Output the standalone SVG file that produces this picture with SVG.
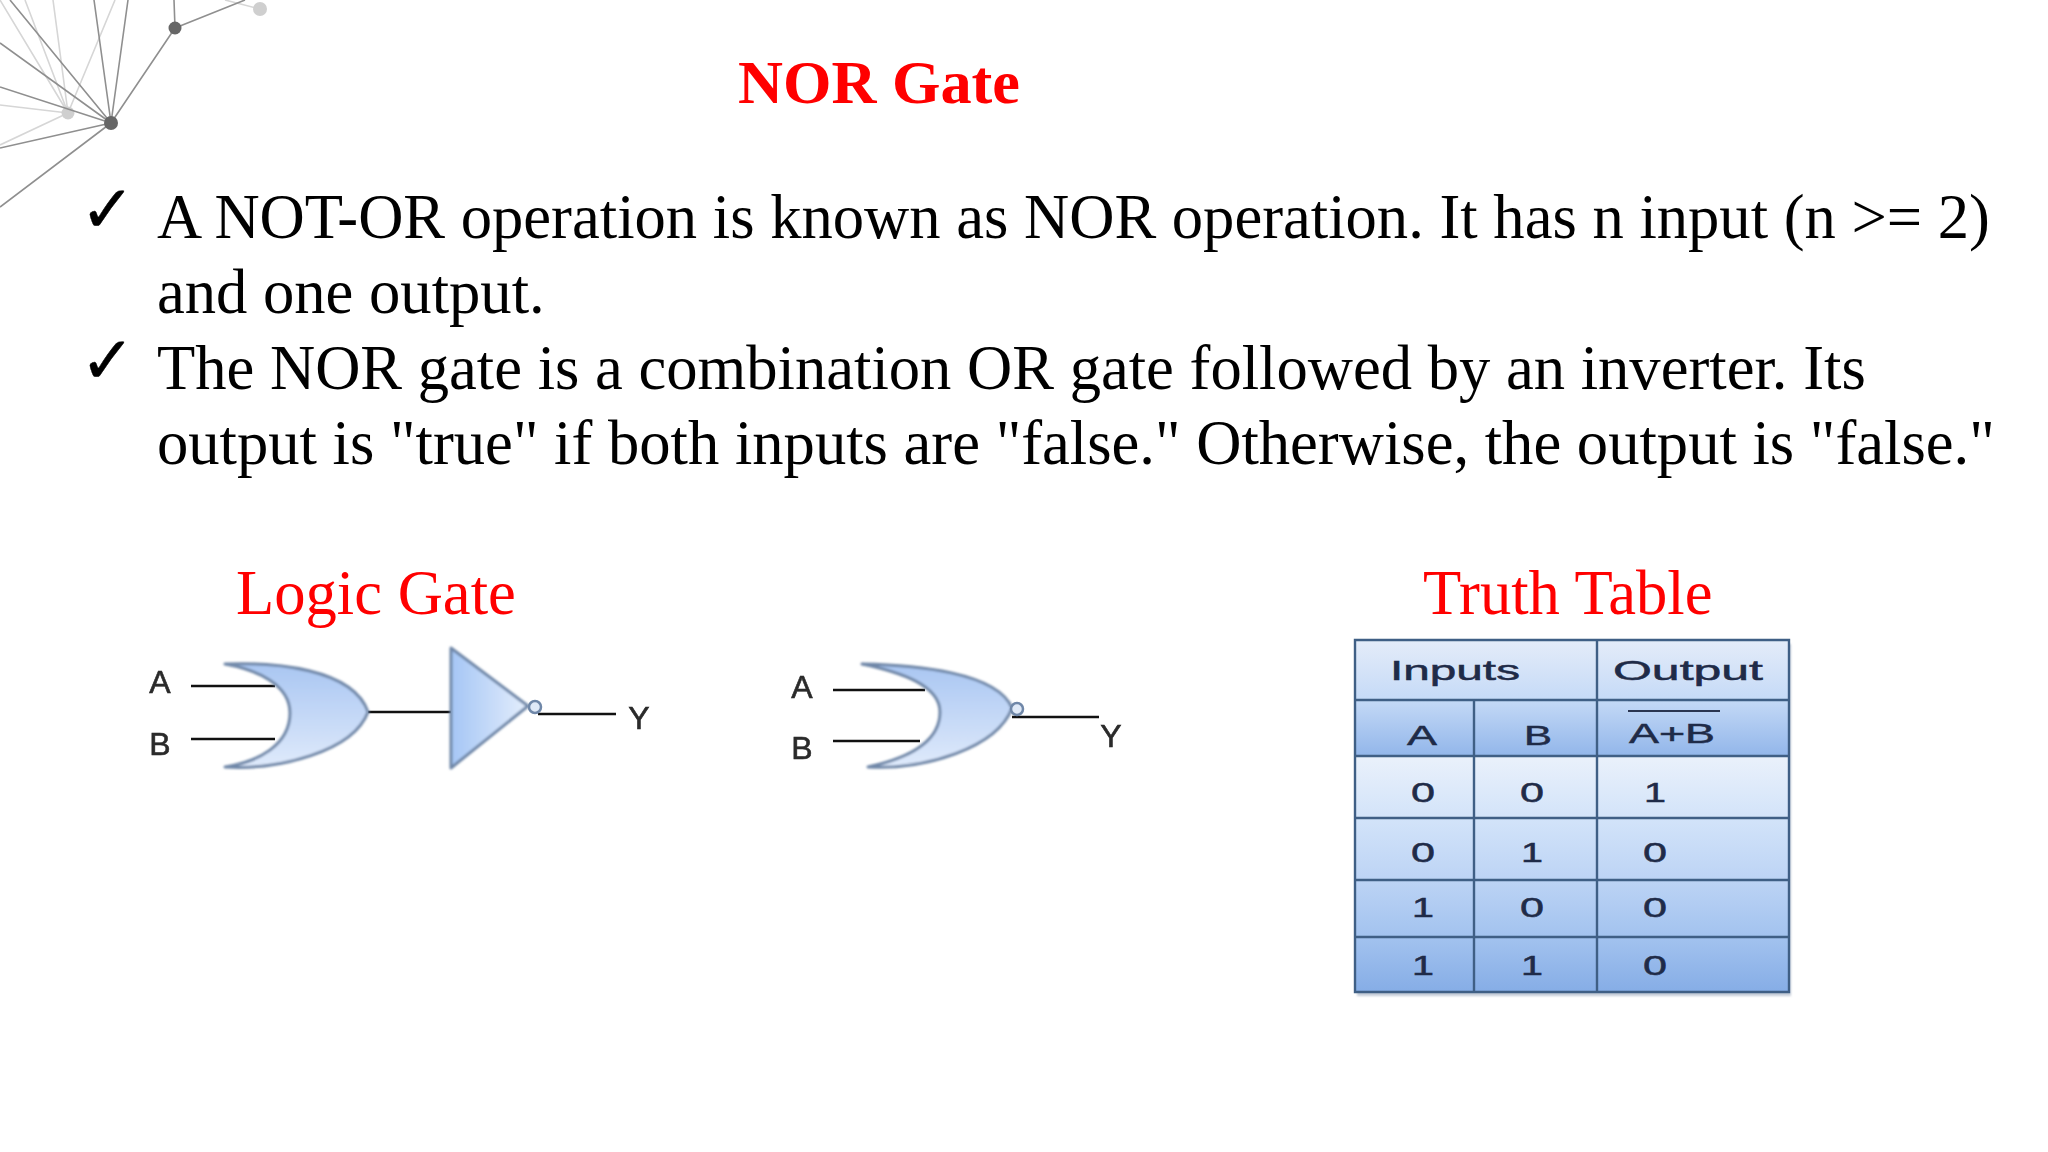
<svg xmlns="http://www.w3.org/2000/svg" width="2048" height="1152" viewBox="0 0 2048 1152">
<style>
.ser{font-family:"Liberation Serif","Times New Roman",serif}
.title{font-size:62.3px;font-weight:bold;fill:#ff0000}
.sub{font-size:62.6px;fill:#ff0000}
.body{font-size:62.6px;fill:#000}
.chk{font-family:"DejaVu Sans",sans-serif;font-size:66px;fill:#000;stroke:#000;stroke-width:0.4}
.lab{font-family:"Liberation Sans",Arial,sans-serif;font-size:32px;fill:#2a2a2a;stroke:#2a2a2a;stroke-width:0.6;text-anchor:middle;filter:url(#tiny)}
.tt{font-family:"Liberation Sans",Arial,sans-serif;font-size:28px;fill:#1f2b48;stroke:#1f2b48;stroke-width:0.5;text-anchor:middle}
.wire{stroke:#111;stroke-width:2.5;fill:none}
.gate{stroke:#6f87a8;stroke-width:3;stroke-linejoin:round;filter:url(#soft)}
.d{stroke:#8f8f8f;stroke-width:1.6;fill:none}
.l{stroke:#d6d6d6;stroke-width:1.6;fill:none}
.grid{stroke:#3f5f85;stroke-width:2.4;fill:none}
</style>
<defs>
<linearGradient id="orG" x1="0" y1="0" x2="0" y2="1"><stop offset="0" stop-color="#a9c6f2"/><stop offset="1" stop-color="#dfeafb"/></linearGradient>
<linearGradient id="invG" x1="0" y1="0" x2="1" y2="0"><stop offset="0" stop-color="#a5c6f5"/><stop offset="1" stop-color="#e4eefc"/></linearGradient>
<linearGradient id="r1" x1="0" y1="0" x2="0" y2="1"><stop offset="0" stop-color="#e4ecf9"/><stop offset="1" stop-color="#c5daf7"/></linearGradient>
<linearGradient id="r2" x1="0" y1="0" x2="0" y2="1"><stop offset="0" stop-color="#c4d9f6"/><stop offset="1" stop-color="#92b6ea"/></linearGradient>
<linearGradient id="r3" x1="0" y1="0" x2="0" y2="1"><stop offset="0" stop-color="#eaf1fb"/><stop offset="0.27" stop-color="#d2e3f9"/><stop offset="0.52" stop-color="#bdd4f5"/><stop offset="0.76" stop-color="#a3c3ef"/><stop offset="1" stop-color="#86ade6"/></linearGradient>
<filter id="soft" x="-10%" y="-10%" width="120%" height="125%"><feGaussianBlur stdDeviation="0.8"/></filter>
<filter id="tiny" x="-10%" y="-10%" width="120%" height="120%"><feGaussianBlur stdDeviation="0.5"/></filter>
</defs>
<rect width="2048" height="1152" fill="#ffffff"/>

<g id="network">
<path class="l" d="M68 113L0 0M68 113L25 0M68 113L53 0M68 113L115 0M68 113L0 105M68 113L0 145M225 0L260 9"/>
<circle cx="68" cy="113" r="6.5" fill="#cfcfcf"/>
<circle cx="260" cy="9" r="7" fill="#cfcfcf"/>
<path class="d" d="M111 123L10 0M111 123L94 0M111 123L128 0M111 123L0 43M111 123L0 87M111 123L0 148M111 123L0 207M111 123L175 28M175 28L174 0M175 28L245 0"/>
<circle cx="111" cy="123" r="7" fill="#666666"/>
<circle cx="175" cy="28" r="6.5" fill="#666666"/>
</g>

<text class="ser title" x="738" y="103">NOR Gate</text>

<g id="bullets">
<text class="chk" x="80" y="232">✓</text>
<text class="chk" x="80" y="383">✓</text>
<text class="ser body" x="157" y="238">A NOT-OR operation is known as NOR operation. It has n input (n &gt;= 2)</text>
<text class="ser body" x="157" y="313">and one output.</text>
<text class="ser body" x="157" y="389">The NOR gate is a combination OR gate followed by an inverter. Its</text>
<text class="ser body" x="157" y="464">output is "true" if both inputs are "false." Otherwise, the output is "false."</text>
</g>

<text class="ser sub" x="236" y="614">Logic Gate</text>
<text class="ser sub" x="1423" y="614">Truth Table</text>

<g id="connectors">
<path class="wire" d="M191 686H275M191 739H275M368 712H451M538 714H616"/>
<path class="wire" d="M833 690H925M833 741H920M1012 717H1099"/>
</g>

<g id="gate-or">
<path class="gate" fill="url(#orG)" d="M225 664C273 662 353 668 368 712C353 752 278 770 225 767C258 762 290 745 290 713C290 685 258 670 225 664Z"/>
<text class="lab" x="160" y="693">A</text>
<text class="lab" x="160" y="755">B</text>
</g>
<g id="gate-inverter">
<path class="gate" fill="url(#invG)" d="M451 648L528 706L451 768Z"/>
<circle cx="535" cy="707" r="6" fill="#dfe9f7" stroke="#6f87a8" stroke-width="2.5"/>
<text class="lab" x="639" y="729">Y</text>
</g>
<g id="gate-nor">
<path class="gate" fill="url(#orG)" d="M862 664C915 665 997 672 1012 708C997 748 925 770 868 767C900 760 940 745 940 712C940 685 900 672 862 664Z"/>
<circle cx="1017" cy="709" r="6" fill="#dfe9f7" stroke="#6f87a8" stroke-width="2.5"/>
<text class="lab" x="802" y="698">A</text>
<text class="lab" x="802" y="759">B</text>
<text class="lab" x="1111" y="747">Y</text>
</g>

<g id="truth-table">
<rect x="1357" y="644" width="434" height="352" fill="#c4ccd8" filter="url(#soft)"/>
<rect x="1355" y="640" width="434" height="60" fill="url(#r1)"/>
<rect x="1355" y="700" width="434" height="56" fill="url(#r2)"/>
<rect x="1355" y="756" width="434" height="236" fill="url(#r3)"/>
<path class="grid" d="M1355 640H1789V992H1355ZM1355 700H1789M1355 756H1789M1355 818H1789M1355 880H1789M1355 937H1789M1474 700V992M1597 640V992"/>
<path d="M1628 711H1720" stroke="#2a3550" stroke-width="2" fill="none"/>
<text class="tt" x="1455" y="680" textLength="130" lengthAdjust="spacingAndGlyphs">Inputs</text>
<text class="tt" x="1688" y="680" textLength="150" lengthAdjust="spacingAndGlyphs">Output</text>
<text class="tt" x="1422" y="745" textLength="30" lengthAdjust="spacingAndGlyphs">A</text>
<text class="tt" x="1538" y="745" textLength="28" lengthAdjust="spacingAndGlyphs">B</text>
<text class="tt" x="1672" y="743" textLength="86" lengthAdjust="spacingAndGlyphs">A+B</text>
<text class="tt" x="1423" y="802" textLength="24" lengthAdjust="spacingAndGlyphs">0</text>
<text class="tt" x="1532" y="802" textLength="24" lengthAdjust="spacingAndGlyphs">0</text>
<text class="tt" x="1655" y="802" textLength="22" lengthAdjust="spacingAndGlyphs">1</text>
<text class="tt" x="1423" y="862" textLength="24" lengthAdjust="spacingAndGlyphs">0</text>
<text class="tt" x="1532" y="862" textLength="22" lengthAdjust="spacingAndGlyphs">1</text>
<text class="tt" x="1655" y="862" textLength="24" lengthAdjust="spacingAndGlyphs">0</text>
<text class="tt" x="1423" y="917" textLength="22" lengthAdjust="spacingAndGlyphs">1</text>
<text class="tt" x="1532" y="917" textLength="24" lengthAdjust="spacingAndGlyphs">0</text>
<text class="tt" x="1655" y="917" textLength="24" lengthAdjust="spacingAndGlyphs">0</text>
<text class="tt" x="1423" y="975" textLength="22" lengthAdjust="spacingAndGlyphs">1</text>
<text class="tt" x="1532" y="975" textLength="22" lengthAdjust="spacingAndGlyphs">1</text>
<text class="tt" x="1655" y="975" textLength="24" lengthAdjust="spacingAndGlyphs">0</text>
</g>
</svg>
